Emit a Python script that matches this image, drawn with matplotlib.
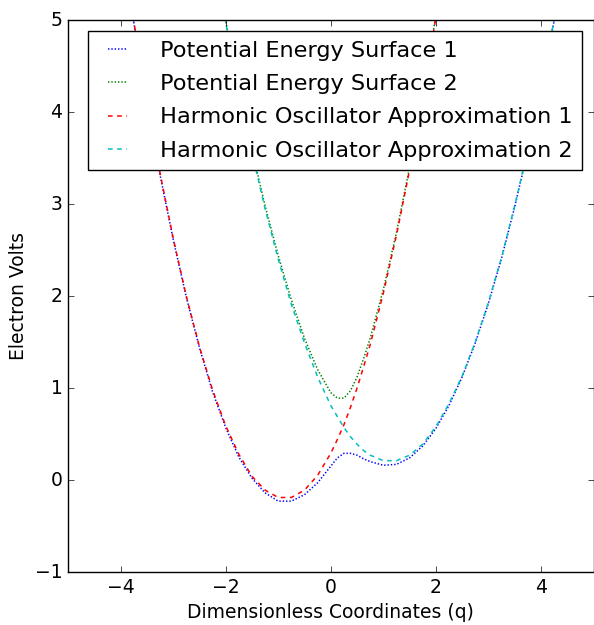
import numpy as np
import matplotlib
matplotlib.use("Agg")
import matplotlib.pyplot as plt
from matplotlib.lines import Line2D
from matplotlib.legend_handler import HandlerLine2D

# values (None = curve is off the top of the plot)
q = [-4.00, -3.75, -3.50, -3.25, -3.00, -2.75, -2.50, -2.25, -2.00, -1.75,
     -1.50, -1.25, -1.00, -0.75, -0.50, -0.25, 0.00, 0.125, 0.25, 0.375,
     0.50, 0.625, 0.75, 1.00, 1.25, 1.50, 1.75, 2.00, 2.25, 2.50,
     2.75, 3.00, 3.25, 3.50, 3.75, 4.00, 4.25, 4.50]

pes1 = [5.92, 4.98, 4.11, 3.32, 2.62, 1.99, 1.44, 0.96, 0.57, 0.25,
        0.02, -0.14, -0.23, -0.23, -0.16, -0.03, 0.15, 0.24, 0.29, 0.29,
        0.27, 0.23, 0.20, 0.16, 0.17, 0.24, 0.37, 0.56, 0.81, 1.12,
        1.49, 1.92, 2.41, 2.97, 3.58, 4.26, 4.99, 5.79]

pes2 = [None, None, None, None, None, None, None, 5.78, 4.99, 4.26,
        3.59, 2.98, 2.44, 1.96, 1.54, 1.20, 0.95, 0.89, 0.89, 0.97,
        1.12, 1.32, 1.54, 2.07, 2.69, 3.40, 4.18, 5.05, None, None,
        None, None, None, None, None, None, None, None]

ho1 = [5.93, 4.99, 4.12, 3.34, 2.63, 2.00, 1.45, 0.98, 0.59, 0.28,
       0.04, -0.11, -0.19, -0.19, -0.11, 0.05, 0.29, 0.44, 0.60, 0.79,
       1.00, 1.23, 1.47, 2.03, 2.66, 3.37, 4.16, 5.03, None, None,
       None, None, None, None, None, None, None, None]

ho2 = [None, None, None, None, None, None, None, 5.77, 4.97, 4.24,
       3.56, 2.95, 2.40, 1.91, 1.49, 1.12, 0.81, 0.69, 0.57, 0.47,
       0.39, 0.32, 0.27, 0.21, 0.21, 0.27, 0.39, 0.58, 0.83, 1.13,
       1.50, 1.93, 2.42, 2.98, 3.59, 4.26, 5.00, 5.80]

labels = ["Potential Energy Surface 1", "Potential Energy Surface 2",
          "Harmonic Oscillator Approximation 1", "Harmonic Oscillator Approximation 2"]

plt.style.use("classic")
plt.rcParams["font.family"] = ["DejaVu Sans"]

fig = plt.figure(figsize=(5.94, 6.25), dpi=100, facecolor="white")
ax = fig.add_axes([0.1145, 0.0848, 0.8847, 0.8832])

dot = (1, 1.4)
dash = (3.3, 3.3)
lw = 1.1
ax.plot(q, np.array(pes1, dtype=float), color="b", linestyle=(0, dot), lw=lw, label=labels[0])
ax.plot(q, np.array(pes2, dtype=float), color="g", linestyle=(0, dot), lw=lw, label=labels[1])
ax.plot(q, np.array(ho1, dtype=float), color="r", linestyle=(0, dash), lw=lw, label=labels[2])
ax.plot(q, np.array(ho2, dtype=float), color="c", linestyle=(0, dash), lw=lw, label=labels[3])

ax.set_xlim(-5, 5)
ax.set_ylim(-1, 5)
ax.set_xticks([-4, -2, 0, 2, 4])
ax.set_yticks([-1, 0, 1, 2, 3, 4, 5])
ax.tick_params(labelsize=13.5, length=4.5)
ax.set_xlabel("Dimensionless Coordinates (q)", fontsize=13.5)
ax.set_ylabel("Electron Volts", fontsize=13.5)

ax.legend(loc="upper right", fontsize=16.1, handlelength=1.62, handletextpad=1.16,
          borderpad=0.44, labelspacing=0.59, borderaxespad=0.5, fancybox=False,
          handler_map={Line2D: HandlerLine2D(xpad=0.15)})

fig.savefig("out.png", dpi=100, facecolor="white")
